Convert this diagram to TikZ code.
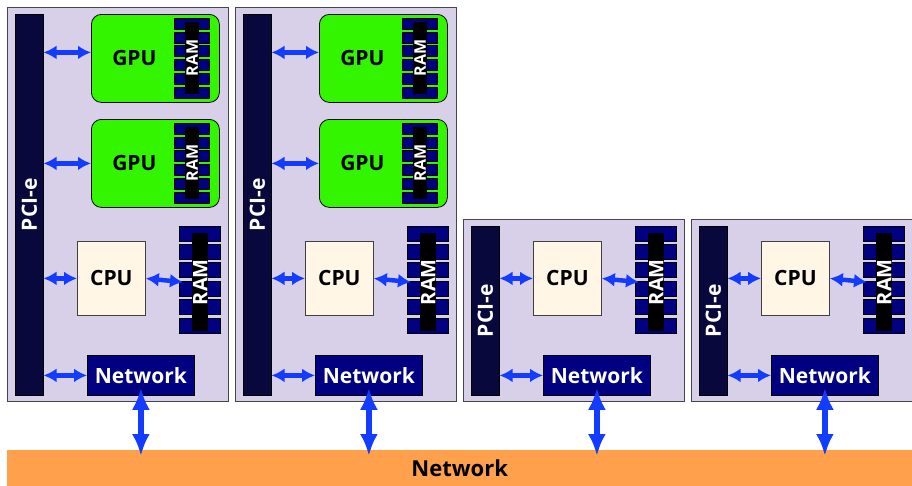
\documentclass[tikz,border=0pt]{standalone}
\usepackage{fontspec}
\setmainfont{Open Sans}
\usetikzlibrary{arrows.meta,calc}
\definecolor{srvbg}{RGB}{216,208,232}
\definecolor{srvline}{RGB}{70,70,70}
\definecolor{pcicol}{RGB}{8,8,60}
\definecolor{navycol}{RGB}{0,0,128}
\definecolor{gpugreen}{RGB}{51,245,0}
\definecolor{cpucream}{RGB}{255,246,230}
\definecolor{arrblue}{RGB}{20,60,255}
\definecolor{netorange}{RGB}{255,160,77}
\newcommand\bigfont{\bfseries\fontsize{21}{21}\selectfont}
\tikzset{
  srv/.style={draw=srvline, line width=1.2pt, fill=srvbg, inner sep=0pt, anchor=north west},
  pcibar/.style={fill=pcicol, draw=black, line width=0.5pt, inner sep=0pt, anchor=north west},
  pcilbl/.style={rotate=90, text=white, font=\bigfont},
  gpubox/.style={draw=black, line width=0.8pt, fill=gpugreen, rounded corners=10pt, inner sep=0pt, anchor=north west},
  gpulbl/.style={font=\bigfont, xshift=-21pt},
  cpubox/.style={draw=black!75, line width=0.8pt, fill=cpucream, inner sep=0pt, anchor=north west, font=\bigfont},
  ramtab/.style={draw=black, line width=0.8pt, fill=navycol},
  ramstrip/.style={fill=black, inner sep=0pt, anchor=north west},
  ramlbl/.style={rotate=90, text=white, font=\bfseries\fontsize{20}{20}\selectfont},
  gramlbl/.style={rotate=90, text=white, font=\bfseries\fontsize{16}{16}\selectfont},
  ramarea/.style={inner sep=0pt, anchor=north west},
  netbox/.style={draw=black, line width=0.8pt, fill=navycol, text=white, inner sep=0pt, anchor=north west, font=\bigfont},
  busbar/.style={fill=netorange, inner sep=0pt, anchor=north west, font=\bfseries\fontsize{22}{22}\selectfont},
  dbl/.style={draw=arrblue, line width=4.5pt, {Latex[length=13pt,width=14pt]}-{Latex[length=13pt,width=14pt]}},
  vdbl/.style={draw=arrblue, line width=6pt, {Latex[length=22pt,width=18pt]}-{Latex[length=22pt,width=18pt]}}
}
% #1 prefix, #2 left x, #3 top y
\newcommand\mkserver[3]{%
  \node[srv, minimum width=221pt, minimum height={401-#3}] (#1box) at (#2,#3) {};
  \node[pcibar, minimum width=28pt, minimum height={395-(#3+7)}, label={[pcilbl]center:PCI-e}] (#1pci) at (#2+8,#3+7) {};
  \node[cpubox, minimum width=68pt, minimum height=74pt] (#1cpu) at (#2+70,241) {CPU};
  \foreach \i in {0,...,5} \draw[ramtab] ({#2+172},{226+\i*18.4}) rectangle ++(41,15);
  \node[ramstrip, minimum width=16pt, minimum height=98pt, label={[ramlbl]center:RAM}] (#1ramstrip) at (#2+185,233) {};
  \node[ramarea, minimum width=41pt, minimum height=111pt] (#1ram) at (#2+172,226) {};
  \node[netbox, minimum width=107pt, minimum height=40pt] (#1net) at (#2+80,355) {Network};
  \draw[dbl] (#1pci.east |- #1cpu.west) -- (#1cpu.west);
  \draw[dbl, shorten >=-4pt] (#1cpu.east) -- (#1ram.west);
  \draw[dbl] (#1pci.east |- #1net.west) -- (#1net.west);
}
% #1 prefix, #2 left x, #3 gpu top y, #4 arrow y offset
\newcommand\mkgpu[4]{%
  \node[gpubox, minimum width=128pt, minimum height=88pt, label={[gpulbl]center:GPU}] (#1) at (#2+84,#3) {};
  \foreach \i in {0,...,5} \draw[ramtab] ({#2+167},{#3+4+\i*13.9}) rectangle ++(35,11);
  \node[ramstrip, minimum width=14pt, minimum height=72pt, label={[gramlbl]center:RAM}] (#1ram) at (#2+178,#3+8) {};
  \coordinate (#1in) at ($(#1.west)+(0,#4)$);
}
\begin{document}
\begin{tikzpicture}[x=1pt, y=-1pt]
\useasboundingbox (0,0) rectangle (912,485);
\mkserver{sa}{7}{7}
\mkgpu{saga}{7}{14}{-6}
\mkgpu{sagb}{7}{119}{0}
\draw[dbl] (sapci.east |- sagain) -- (sagain);
\draw[dbl] (sapci.east |- sagbin) -- (sagbin);
\mkserver{sb}{235}{7}
\mkgpu{sbga}{235}{14}{-6}
\mkgpu{sbgb}{235}{119}{0}
\draw[dbl] (sbpci.east |- sbgain) -- (sbgain);
\draw[dbl] (sbpci.east |- sbgbin) -- (sbgbin);
\mkserver{sc}{463}{219}
\mkserver{sd}{691}{219}
\node[busbar, minimum width=905pt, minimum height=36pt] (bus) at (7,450) {Network};
\foreach \s in {sa,sb,sc,sd}
  \draw[vdbl] ($(\s net.south)+(0,-8)$) -- ($(bus.north -| \s net.south)+(0,6)$);
\end{tikzpicture}
\end{document}
